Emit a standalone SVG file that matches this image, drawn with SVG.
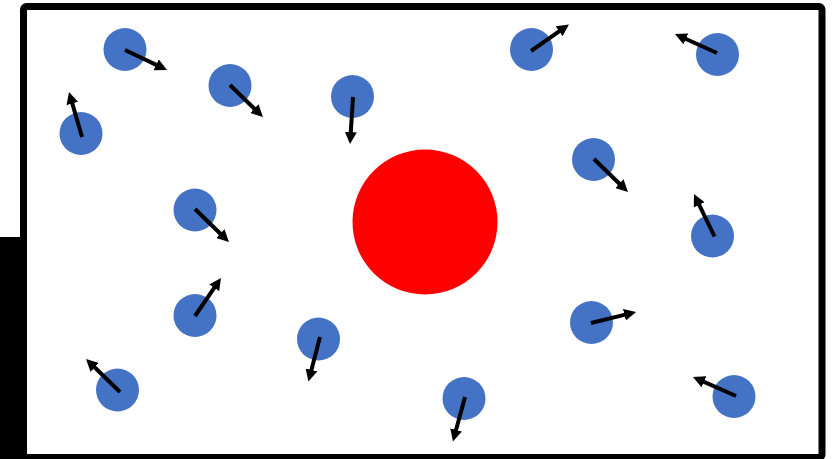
<svg xmlns="http://www.w3.org/2000/svg" width="833" height="459" viewBox="0 0 833 459">
  <style>
    .p { fill: #4472C4; }
    .v { stroke: #000; stroke-width: 4; fill: none; marker-end: url(#ah); }
  </style>
  <defs>
    <marker id="ah" markerUnits="userSpaceOnUse" viewBox="0 0 12 12" refX="3" refY="6" markerWidth="12" markerHeight="12" orient="auto">
      <path d="M0,0 L12,6 L0,12 z" fill="#000"/>
    </marker>
  </defs>
  <rect width="833" height="459" fill="#fff"/>
  <rect x="0" y="237" width="22" height="222" fill="#000"/>
  <rect id="box" x="23.5" y="6.5" width="798.5" height="451" rx="3" fill="#fff" stroke="#000" stroke-width="7"/>
  <g id="big"><circle cx="425" cy="222" r="72.5" fill="#FF0000"/></g>
  <g id="particles">
    <g id="p1"><circle class="p" cx="125" cy="49.5" r="21.5"/></g>
    <g id="p2"><circle class="p" cx="230" cy="85.5" r="21.5"/></g>
    <g id="p3"><circle class="p" cx="81" cy="133.5" r="21.5"/></g>
    <g id="p4"><circle class="p" cx="195" cy="210" r="21.5"/></g>
    <g id="p5"><circle class="p" cx="195" cy="315.5" r="21.5"/></g>
    <g id="p6"><circle class="p" cx="117.5" cy="390" r="21.5"/></g>
    <g id="p7"><circle class="p" cx="352.5" cy="96.5" r="21.5"/></g>
    <g id="p8"><circle class="p" cx="531.5" cy="49.5" r="21.5"/></g>
    <g id="p9"><circle class="p" cx="717.5" cy="54.5" r="21.5"/></g>
    <g id="p10"><circle class="p" cx="593.5" cy="159.5" r="21.5"/></g>
    <g id="p11"><circle class="p" cx="712.5" cy="236" r="21.5"/></g>
    <g id="p12"><circle class="p" cx="591.5" cy="322.5" r="21.5"/></g>
    <g id="p13"><circle class="p" cx="734" cy="396.5" r="21.5"/></g>
    <g id="p14"><circle class="p" cx="318.5" cy="339" r="21.5"/></g>
    <g id="p15"><circle class="p" cx="464" cy="398.5" r="21.5"/></g>
  </g>
  <g id="connectors">
    <line class="v" x1="125" y1="50" x2="158.9" y2="66.1"/>
    <line class="v" x1="230" y1="85" x2="256.5" y2="110.7"/>
    <line class="v" x1="82" y1="137" x2="71.5" y2="100.6"/>
    <line class="v" x1="195" y1="209" x2="222.5" y2="235.7"/>
    <line class="v" x1="195" y1="316" x2="215.9" y2="285.4"/>
    <line class="v" x1="120" y1="392" x2="92.5" y2="365.3"/>
    <line class="v" x1="353" y1="97" x2="350.6" y2="135"/>
    <line class="v" x1="531" y1="51" x2="561.6" y2="29.6"/>
    <line class="v" x1="717" y1="53" x2="683.2" y2="37.7"/>
    <line class="v" x1="594" y1="159" x2="621.5" y2="185.7"/>
    <line class="v" x1="714.5" y1="236.5" x2="697.9" y2="202.1"/>
    <line class="v" x1="591" y1="323" x2="627.3" y2="314.1"/>
    <line class="v" x1="736" y1="396" x2="701.2" y2="380.6"/>
    <line class="v" x1="320" y1="337" x2="310.7" y2="372.8"/>
    <line class="v" x1="465" y1="397" x2="455.3" y2="432.8"/>
  </g>
</svg>
